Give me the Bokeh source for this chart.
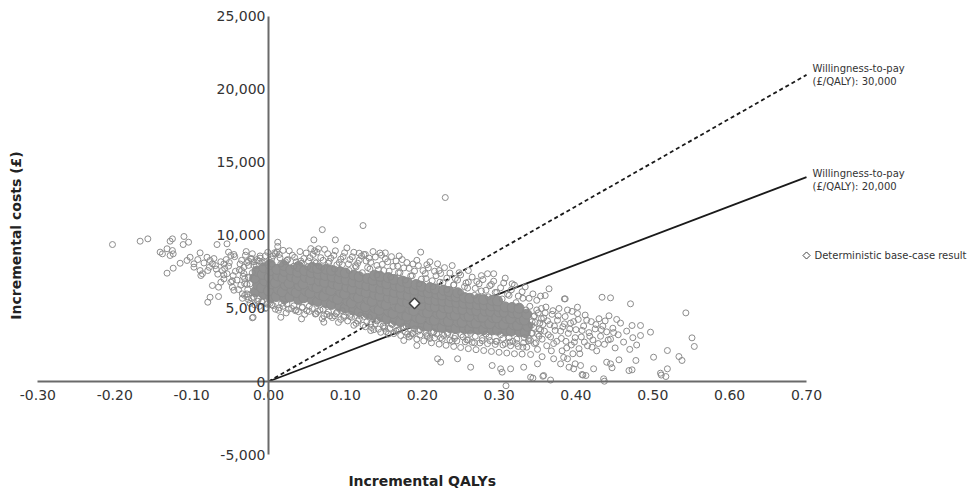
from math import pi
from bokeh.plotting import figure
from bokeh.models import Range1d, FixedTicker
from bokeh.core.properties import value
from bokeh.embed import file_html
from bokeh.resources import INLINE

# ---------------- data ----------------
x_ticks = [-0.30, -0.20, -0.10, 0.00, 0.10, 0.20, 0.30, 0.40, 0.50, 0.60, 0.70]
x_tick_labels = ["-0.30", "-0.20", "-0.10", "0.00", "0.10", "0.20", "0.30", "0.40", "0.50", "0.60", "0.70"]
y_ticks = [-5000, 0, 5000, 10000, 15000, 20000, 25000]
y_tick_labels = ["-5,000", "0", "5,000", "10,000", "15,000", "20,000", "25,000"]

x_title = "Incremental QALYs"
y_title = "Incremental costs (£)"

wtp_values = [30000, 20000]
wtp_line_labels = [["Willingness-to-pay", "(£/QALY): 30,000"],
                   ["Willingness-to-pay", "(£/QALY): 20,000"]]
wtp_dashes = ["4 3", "solid"]

base_label = "Deterministic base-case result"
base_q = [0.19]
base_c = [5350]

# dense centre of the probabilistic cloud (drawn solid)
core_q = [
    -0.017, -0.014, -0.018, -0.015,
    -0.006, -0.009, -0.005, -0.008, -0.006,
    0.003, 0.000, 0.004, 0.001, 0.003, 0.002,
    0.010, 0.013, 0.009, 0.012, 0.011,
    0.021, 0.018, 0.022, 0.019, 0.021, 0.020,
    0.028, 0.031, 0.027, 0.030, 0.029,
    0.039, 0.036, 0.040, 0.037, 0.038, 0.039,
    0.046, 0.049, 0.045, 0.048, 0.047,
    0.057, 0.054, 0.058, 0.055, 0.056, 0.057,
    0.064, 0.067, 0.063, 0.066, 0.065, 0.064,
    0.075, 0.072, 0.076, 0.073, 0.074, 0.075,
    0.082, 0.085, 0.081, 0.084, 0.083, 0.082,
    0.093, 0.090, 0.094, 0.091, 0.092, 0.093,
    0.100, 0.103, 0.099, 0.102, 0.101, 0.100,
    0.111, 0.108, 0.112, 0.109, 0.110, 0.111,
    0.118, 0.121, 0.117, 0.120, 0.119, 0.118,
    0.129, 0.126, 0.130, 0.127, 0.128, 0.129,
    0.136, 0.139, 0.135, 0.138, 0.137, 0.136, 0.138,
    0.147, 0.144, 0.148, 0.145, 0.146, 0.147, 0.145,
    0.154, 0.157, 0.153, 0.156, 0.155, 0.154, 0.156,
    0.165, 0.162, 0.166, 0.163, 0.164, 0.165, 0.163,
    0.172, 0.175, 0.171, 0.174, 0.173, 0.172, 0.174,
    0.183, 0.180, 0.184, 0.181, 0.182, 0.183, 0.181,
    0.190, 0.193, 0.189, 0.192, 0.191, 0.190, 0.192,
    0.201, 0.198, 0.202, 0.199, 0.200, 0.201, 0.199,
    0.208, 0.211, 0.207, 0.210, 0.209, 0.208, 0.210,
    0.219, 0.216, 0.220, 0.217, 0.218, 0.219, 0.217,
    0.226, 0.229, 0.225, 0.228, 0.227, 0.226, 0.228,
    0.237, 0.234, 0.238, 0.235, 0.236, 0.237, 0.235,
    0.244, 0.247, 0.243, 0.246, 0.245, 0.244, 0.246,
    0.255, 0.252, 0.256, 0.253, 0.254, 0.255,
    0.262, 0.265, 0.261, 0.264, 0.263, 0.262,
    0.273, 0.270, 0.274, 0.271, 0.272, 0.273,
    0.280, 0.283, 0.279, 0.282, 0.281, 0.280,
    0.291, 0.288, 0.292, 0.289, 0.290, 0.291,
    0.298, 0.301, 0.297, 0.300, 0.299, 0.298,
    0.309, 0.306, 0.310, 0.307, 0.308,
    0.316, 0.319, 0.315, 0.318, 0.317,
    0.327, 0.324, 0.328, 0.325, 0.326,
    0.334, 0.337, 0.333, 0.336,
]
core_c = [
    6150, 6620, 7080, 7560,
    5980, 6430, 6900, 7340, 7790,
    5750, 6210, 6690, 7150, 7600, 8020,
    5820, 6300, 6770, 7230, 7680,
    5680, 6140, 6600, 7090, 7540, 7950,
    5790, 6260, 6720, 7180, 7650,
    5620, 6090, 6560, 7020, 7490, 7880,
    5740, 6200, 6680, 7130, 7600,
    5590, 6050, 6510, 6980, 7440, 7820,
    5480, 5950, 6420, 6890, 7350, 7740,
    5380, 5860, 6330, 6790, 7260, 7690,
    5280, 5750, 6230, 6700, 7160, 7610,
    5150, 5630, 6110, 6580, 7050, 7520,
    5040, 5520, 5990, 6470, 6950, 7430,
    4900, 5380, 5860, 6340, 6820, 7290,
    4780, 5260, 5740, 6220, 6700, 7180,
    4660, 5130, 5610, 6090, 6570, 7060,
    4540, 5010, 5490, 5970, 6450, 6940, 7280,
    4420, 4890, 5370, 5850, 6330, 6810, 7210,
    4300, 4770, 5250, 5730, 6210, 6690, 7120,
    4200, 4660, 5140, 5620, 6100, 6570, 6990,
    4100, 4560, 5040, 5510, 5990, 6460, 6880,
    4000, 4470, 4940, 5410, 5890, 6360, 6760,
    3920, 4380, 4850, 5320, 5790, 6260, 6640,
    3830, 4290, 4760, 5230, 5700, 6160, 6520,
    3780, 4240, 4700, 5160, 5620, 6070, 6430,
    3740, 4200, 4650, 5110, 5560, 6000, 6340,
    3700, 4160, 4610, 5060, 5500, 5930, 6250,
    3660, 4120, 4570, 5010, 5450, 5870, 6160,
    3630, 4080, 4530, 4970, 5400, 5810, 6080,
    3610, 4050, 4490, 4930, 5350, 5750,
    3590, 4020, 4460, 4890, 5300, 5700,
    3570, 4000, 4430, 4850, 5260, 5650,
    3550, 3980, 4400, 4820, 5220, 5610,
    3530, 3960, 4380, 4790, 5180, 5560,
    3510, 3940, 4360, 4760, 5150, 5520,
    3480, 3910, 4330, 4730, 5110,
    3450, 3880, 4300, 4700, 5070,
    3400, 3840, 4260, 4660, 5020,
    3350, 3790, 4210, 4610,
]

# individual simulations around the dense centre (drawn as open circles)
left_tail_q = [-0.203, -0.167, -0.157, -0.141, -0.138, -0.132, -0.128, -0.125, -0.128, -0.124,
               -0.125, -0.110, -0.104, -0.111, -0.132, -0.124, -0.115, -0.106, -0.102, -0.097,
               -0.097, -0.089, -0.089, -0.086, -0.088, -0.080, -0.076, -0.073, -0.069, -0.079,
               -0.073, -0.065, -0.076, -0.065, -0.079, -0.067, -0.054, -0.052, -0.049, -0.058,
               -0.060, -0.054, -0.058, -0.049, -0.047, -0.032, -0.026, -0.024, -0.019, -0.020,
               -0.092, -0.084, -0.077, -0.071, -0.066, -0.062, -0.057, -0.051, -0.046, -0.044,
               -0.041, -0.038, -0.035, -0.031, -0.028, -0.026, -0.023, -0.039, -0.034, -0.027,
               -0.030, -0.015, -0.011, -0.013, -0.008, -0.002,
               -0.058, -0.052, -0.047, -0.043, -0.036, -0.033, -0.021, -0.019, -0.045, -0.055,
               -0.062, -0.068]
left_tail_c = [9380, 9610, 9770, 8860, 8745, 9090, 9610, 9770, 8630, 8745,
               8970, 9930, 9540, 9380, 7420, 7760, 8100, 8290, 8510, 8060,
               7830, 8810, 7600, 7380, 7260, 8510, 8290, 8060, 7940, 7600,
               6575, 6460, 5770, 5820, 5430, 9380, 9430, 8860, 8630, 8060,
               7600, 7380, 7030, 6800, 6460, 7830, 7140, 6690, 5770, 4400,
               8350, 8120, 7820, 8420, 7350, 8200, 7750, 8150, 7250, 8550,
               6950, 7650, 8300, 7050, 6650, 7950, 8400, 6300, 6000, 5800,
               8650, 8350, 8600, 5650, 5450, 5300,
               7300, 7900, 6900, 7550, 6600, 7200, 7450, 8200, 6250, 8350,
               6800, 7700]

high_q = [0.012, 0.059, 0.070, 0.087, 0.065, 0.063, 0.118, 0.126, 0.123, 0.152,
          0.198, 0.230, 0.009, 0.011, 0.220, 0.239, 0.285, 0.293, 0.308, 0.317,
          0.365, 0.360, 0.386, 0.402]
high_c = [9540, 9700, 10400, 9700, 9090, 8860, 8790, 8700, 10680, 8810,
          8860, 12600, 8745, 8860, 8060, 7940, 7380, 7380, 7080, 6690,
          6350, 5890, 5660, 5090]

low_q = [0.016, 0.043, 0.072, -0.021, 0.133, 0.146, 0.176, 0.185, 0.193, 0.220,
         0.224, 0.246, 0.263, 0.291, 0.302, 0.304, 0.315, 0.332, 0.341, 0.350,
         0.358, 0.371, 0.380, 0.391, 0.399, 0.309, 0.344, 0.357, 0.367, 0.409,
         0.437, 0.511]
low_c = [4400, 4290, 4060, 4360, 3490, 3370, 2810, 3150, 2465, 1555,
         1325, 1555, 980, 1095, 870, 640, 870, 980, 295, 1210,
         410, 1555, 1210, 980, 1210, -290, 230, 360, 100, 440,
         20, 440]

right_tail_q = [0.434, 0.445, 0.471, 0.543, 0.385, 0.473, 0.484, 0.497, 0.484, 0.519,
                0.534, 0.538, 0.551, 0.554, 0.510, 0.517, 0.519, 0.501, 0.478, 0.469,
                0.473, 0.456, 0.445, 0.447, 0.440, 0.436, 0.423, 0.406, 0.408, 0.413,
                0.397, 0.389,
                0.343, 0.347, 0.351, 0.352, 0.356, 0.358, 0.361, 0.364, 0.366, 0.369,
                0.371, 0.373, 0.376, 0.378, 0.381, 0.383, 0.386, 0.388, 0.390, 0.393,
                0.395, 0.398, 0.400, 0.403, 0.405, 0.407, 0.410, 0.412, 0.415, 0.417,
                0.420, 0.422, 0.425, 0.427, 0.430, 0.432, 0.435, 0.437, 0.440, 0.443,
                0.445, 0.448, 0.451, 0.455, 0.458, 0.462, 0.466, 0.470, 0.474, 0.479,
                0.356, 0.368, 0.384, 0.396,
                0.331, 0.335, 0.339, 0.342, 0.345, 0.348, 0.350, 0.353, 0.355, 0.359,
                0.362, 0.363, 0.367, 0.370, 0.372, 0.375, 0.377, 0.380, 0.382, 0.385,
                0.387, 0.389, 0.392, 0.394, 0.397, 0.399, 0.402, 0.404, 0.408, 0.411,
                0.414, 0.418, 0.421, 0.426, 0.429, 0.433, 0.438, 0.442, 0.449, 0.453]
right_tail_c = [5770, 5730, 5320, 4700, 5660, 3835, 3835, 3380, 3150, 2120,
                1710, 1440, 2990, 2400, 570, 340, 870, 1665, 1440, 750,
                800, 1485, 1210, 940, 1320, 185, 870, 1095, 480, 410,
                870, 1555,
                3300, 4050, 4700, 3600, 2900, 4350, 5100, 3200, 3900, 4600,
                2600, 3500, 4200, 5000, 2950, 3750, 4450, 2300, 3300, 4000,
                4800, 2700, 3550, 4250, 1900, 3050, 3800, 4550, 2450, 3350,
                4100, 2850, 3600, 2100, 4300, 3100, 3800, 2550, 3400, 4500,
                2900, 3650, 2300, 3200, 4000, 2700, 3450, 2200, 3000, 2500,
                1700, 2100, 1650, 1900,
                2350, 4900, 2950, 3850, 4450, 2650, 3250, 4000, 5000, 3450,
                2450, 4150, 3050, 4850, 3800, 2750, 4500, 3450, 2100, 3950,
                2750, 4900, 3600, 2500, 4100, 3000, 4650, 2250, 3500, 2700,
                4200, 3100, 2350, 3900, 2600, 3550, 4150, 2850, 3350, 4250]

upper_fringe_q = [-0.028, -0.022, -0.013, -0.004, 0.004, 0.008, 0.015, 0.019, 0.024, 0.031,
                  0.036, 0.041, 0.046, 0.052, 0.058, 0.062, 0.068, 0.073, 0.079, 0.085,
                  0.089, 0.094, 0.099, 0.104, 0.109, 0.113, 0.118, 0.124, 0.129, 0.133,
                  0.139, 0.143, 0.148, 0.152, 0.157, 0.162, 0.166, 0.171, 0.176, 0.180,
                  0.185, 0.190, 0.195, 0.199, 0.204, 0.208, 0.213, 0.218, 0.222, 0.227,
                  0.232, 0.236, 0.241, 0.246, 0.250, 0.255, 0.260, 0.265, 0.269, 0.274,
                  0.279, 0.283, 0.288, 0.293, 0.297, 0.302, 0.306, 0.311, 0.316, 0.320,
                  0.325, 0.330, 0.334, 0.339, 0.344, 0.349, 0.354, 0.012, 0.055, 0.102,
                  0.145, 0.170, 0.210, 0.260,
                  -0.045, -0.037, -0.029, -0.021, -0.016, -0.008, -0.001, 0.005, 0.014, 0.022,
                  0.027, 0.034, 0.043, 0.049, 0.054, 0.060, 0.066, 0.071, 0.077, 0.081,
                  0.087, 0.092, 0.097, 0.106, 0.111, 0.116, 0.121, 0.127, 0.131, 0.136,
                  0.141, 0.147, 0.155, 0.160, 0.168, 0.174, 0.183, 0.188, 0.193, 0.201,
                  0.206, 0.216, 0.224, 0.229, 0.243, 0.248, 0.257, 0.271, 0.277, 0.290]
upper_fringe_c = [8150, 8420, 8260, 8610, 8390, 8820, 8470, 8980, 8300, 8650,
                  8190, 8900, 8420, 8250, 8700, 8120, 8480, 9050, 8230, 8640,
                  7990, 8380, 8820, 8050, 8540, 7930, 8300, 8700, 7800, 8160,
                  8520, 7660, 8020, 8400, 7560, 7880, 8250, 7450, 7780, 8150,
                  7230, 7560, 7940, 7010, 7390, 7780, 6900, 7250, 7600, 6760,
                  7080, 7430, 6620, 6950, 7300, 6500, 6810, 7150, 6380, 6690,
                  6980, 6250, 6560, 6870, 6100, 6420, 6750, 5980, 6280, 6600,
                  5850, 6150, 6480, 5700, 6000, 5560, 5850, 9250, 9100, 9150,
                  8800, 8600, 8200, 7600,
                  8700, 8050, 8900, 8750, 7950, 8150, 8850, 8020, 8700, 8200,
                  8950, 8500, 8100, 8800, 8480, 8950, 7900, 8300, 8750, 8450,
                  8950, 8150, 8550, 8350, 8850, 8100, 8600, 8250, 8450, 8900,
                  7950, 8650, 8200, 8550, 7900, 8350, 7750, 8050, 8300, 7600,
                  8000, 7550, 7400, 7800, 7050, 7450, 6750, 6850, 7250, 6650]

lower_fringe_q = [-0.026, -0.018, -0.009, -0.003, 0.006, 0.013, 0.019, 0.026, 0.033, 0.039,
                  0.044, 0.050, 0.057, 0.061, 0.067, 0.072, 0.078, 0.083, 0.088, 0.094,
                  0.098, 0.103, 0.108, 0.114, 0.118, 0.123, 0.128, 0.134, 0.139, 0.143,
                  0.149, 0.153, 0.158, 0.163, 0.168, 0.172, 0.178, 0.183, 0.187, 0.193,
                  0.197, 0.202, 0.207, 0.212, 0.216, 0.222, 0.226, 0.231, 0.236, 0.241,
                  0.245, 0.250, 0.256, 0.260, 0.265, 0.270, 0.275, 0.280, 0.285, 0.290,
                  0.295, 0.300, 0.305, 0.310, 0.315, 0.320, 0.325, 0.330, 0.336, 0.341,
                  0.346, 0.350,
                  -0.031, -0.022, -0.012, 0.002, 0.009, 0.017, 0.023, 0.030, 0.036, 0.047,
                  0.053, 0.064, 0.070, 0.076, 0.086, 0.091, 0.096, 0.106, 0.111, 0.120,
                  0.126, 0.131, 0.137, 0.141, 0.151, 0.156, 0.161, 0.166, 0.175, 0.181,
                  0.190, 0.195, 0.205, 0.210, 0.214, 0.219, 0.228, 0.233, 0.239, 0.243,
                  0.253, 0.258, 0.263, 0.268, 0.278, 0.283, 0.288, 0.297, 0.302, 0.308,
                  0.313, 0.318, 0.323, 0.333, 0.338]
lower_fringe_c = [5600, 5250, 5480, 5050, 5200, 4880, 5150, 4950, 5180, 4780,
                  5060, 4850, 5000, 4620, 4900, 4500, 4760, 4380, 4650, 4250,
                  4520, 4150, 4400, 3980, 4260, 3850, 4110, 3700, 3960, 3580,
                  3800, 3420, 3650, 3280, 3520, 3150, 3400, 3050, 3280, 2900,
                  3180, 2780, 3080, 2650, 2980, 2560, 2900, 2480, 2840, 2400,
                  2780, 2330, 2720, 2250, 2680, 2180, 2640, 2120, 2590, 2060,
                  2540, 2000, 2500, 1950, 2450, 1900, 2400, 1880, 2350, 1850,
                  2600, 2200,
                  5900, 5700, 5150, 5350, 4950, 5350, 4700, 5000, 4900, 4600,
                  5150, 4800, 4300, 4600, 4500, 4050, 4850, 4450, 3850, 4550,
                  3750, 4400, 3550, 4150, 3650, 3250, 3900, 3450, 3750, 3250,
                  3600, 3450, 3300, 2950, 3350, 3250, 3150, 3350, 2750, 3100,
                  3050, 2850, 3300, 2650, 2950, 3250, 2800, 2750, 3200, 2600,
                  3000, 2750, 2600, 3000, 2800]

# simulations hugging the edge of the dense centre
edge_q = [-0.035, -0.026, -0.019, -0.011, -0.004, 0.006, 0.016, 0.025, 0.033, 0.042,
          0.051, 0.060, 0.069, 0.078, 0.086, 0.096, 0.105, 0.114, 0.122, 0.132,
          0.141, 0.150, 0.159, 0.169, 0.178, 0.187, 0.196, 0.205, 0.214, 0.223,
          0.232, 0.241, 0.250, 0.259, 0.268, 0.277, 0.286, 0.295, 0.304, 0.313,
          0.322, 0.331, 0.340,
          -0.034, -0.024, -0.014, -0.004, 0.004, 0.014, 0.024, 0.035, 0.044, 0.053,
          0.062, 0.071, 0.080, 0.089, 0.098, 0.107, 0.116, 0.125, 0.133, 0.142,
          0.151, 0.160, 0.170, 0.179, 0.188, 0.197, 0.206, 0.215, 0.224, 0.233,
          0.242, 0.251, 0.260, 0.269, 0.278, 0.287, 0.296, 0.305, 0.314, 0.323,
          0.332, 0.341,
          0.342, 0.345, 0.343, 0.346, 0.349, 0.352, 0.354, 0.357, 0.355, 0.360,
          -0.027, -0.031, -0.026, -0.032, -0.028]
edge_c = [7600, 8250, 7950, 8450, 8150, 8600, 8050, 8350, 7900, 8250,
          7850, 8200, 7800, 8100, 7700, 8000, 7600, 7850, 7450, 7700,
          7300, 7600, 7150, 7450, 6950, 7250, 6700, 7050, 6500, 6800,
          6300, 6600, 6100, 6400, 5900, 6200, 5800, 6100, 5650, 5900,
          5400, 5700, 5150,
          5700, 5350, 5500, 5000, 5250, 5050, 5300, 4850, 5100, 4800,
          4650, 4950, 4500, 4750, 4400, 4600, 4150, 4450, 3950, 4200,
          3750, 3950, 3550, 3800, 3300, 3550, 3150, 3400, 3000, 3250,
          2950, 3200, 2850, 3100, 2800, 3050, 2750, 2950, 2700, 2900,
          2650, 2800,
          3300, 3700, 4100, 4500, 4900, 3100, 3500, 3900, 4300, 4700,
          6300, 6700, 7100, 7400, 6000]

outer_q = left_tail_q + high_q + low_q + right_tail_q + upper_fringe_q + lower_fringe_q + edge_q
outer_c = left_tail_c + high_c + low_c + right_tail_c + upper_fringe_c + lower_fringe_c + edge_c
assert len(core_q) == len(core_c)
assert len(outer_q) == len(outer_c), (len(outer_q), len(outer_c))

# ---------------- layout ----------------
W, H = 968, 490
PX_PER_Q = 768.6      # screen pixels per QALY unit
C_PER_PX = 68.49      # pounds per screen pixel
ORIGIN_X, ORIGIN_Y = 268, 381   # screen position of (0, 0)

x_range = Range1d(-ORIGIN_X / PX_PER_Q, (W - ORIGIN_X) / PX_PER_Q)
y_range = Range1d(-(H - ORIGIN_Y) * C_PER_PX, ORIGIN_Y * C_PER_PX)

p = figure(width=W, height=H, x_range=x_range, y_range=y_range,
           output_backend="svg", toolbar_location=None,
           min_border=0, min_border_left=0, min_border_right=0,
           min_border_top=0, min_border_bottom=0,
           background_fill_color="white", border_fill_color="white")
p.outline_line_color = None
p.grid.visible = False

FONT = "DejaVu Sans"
AXIS_COLOR = "#6a6a6a"
TEXT_COLOR = "#333333"
POINT_COLOR = "#8c8c8c"

for ax, ticks, labels in ((p.xaxis[0], x_ticks, x_tick_labels), (p.yaxis[0], y_ticks, y_tick_labels)):
    ax.fixed_location = 0
    ax.ticker = FixedTicker(ticks=ticks, minor_ticks=[])
    ax.major_label_overrides = {t: l for t, l in zip(ticks, labels)}
    ax.bounds = (ticks[0], ticks[-1])
    ax.axis_line_color = AXIS_COLOR
    ax.axis_line_width = 2
    ax.major_tick_line_color = None
    ax.minor_tick_line_color = None
    ax.major_tick_out = 0
    ax.major_tick_in = 0
    ax.minor_tick_out = 0
    ax.minor_tick_in = 0
    ax.major_label_text_font = FONT
    ax.major_label_text_font_size = "14px"
    ax.major_label_text_color = TEXT_COLOR
p.xaxis.major_label_standoff = 8
p.yaxis.major_label_standoff = 3

# willingness-to-pay threshold lines
q_end = x_ticks[-1]
for wtp, dash in zip(wtp_values, wtp_dashes):
    p.line([0, q_end], [0, q_end * wtp], line_color="#1a1a1a", line_width=1.8, line_dash=dash)

# probabilistic simulations
p.scatter(core_q, core_c, size=10, marker="circle",
          fill_color="#919191", line_color=POINT_COLOR, line_width=1)
p.scatter(outer_q, outer_c, size=6, marker="circle",
          fill_color=None, line_color=POINT_COLOR, line_width=1)

# deterministic base case
p.scatter(base_q, base_c, marker="square", angle=pi / 4, size=7.5,
          fill_color="white", line_color="#444444", line_width=1.5)

# threshold labels
label_offsets = [[-6.7, 6.3], [-3.6, 9.1]]
for wtp, lines, offs in zip(wtp_values, wtp_line_labels, label_offsets):
    for line_text, off in zip(lines, offs):
        p.text([q_end], [q_end * wtp], text=[line_text], x_offset=6, y_offset=off,
               text_font=value(FONT), text_font_size="10px", text_color=TEXT_COLOR,
               text_align="left", text_baseline="middle")

# legend entry for the base case (marker + label)
legend_y = (ORIGIN_Y - 255) * C_PER_PX
p.scatter([q_end], [legend_y], marker="square", angle=pi / 4, size=5,
          fill_color="white", line_color="#444444", line_width=1)
p.text([q_end], [legend_y], text=[base_label], x_offset=8,
       text_font=value(FONT), text_font_size="10px", text_color=TEXT_COLOR,
       text_align="left", text_baseline="middle")

# axis titles
p.text([(x_ticks[0] + x_ticks[-1]) / 2], [-(480 - ORIGIN_Y) * C_PER_PX], text=[x_title],
       text_font=value(FONT), text_font_style="bold", text_font_size="14px",
       text_color="#222222", text_align="center", text_baseline="middle")
p.text([(15 - ORIGIN_X) / PX_PER_Q], [(y_ticks[0] + y_ticks[-1]) / 2], text=[y_title],
       angle=pi / 2, text_font=value(FONT), text_font_style="bold", text_font_size="14px",
       text_color="#222222", text_align="center", text_baseline="middle")

open("out.html", "w").write(file_html(p, INLINE))
